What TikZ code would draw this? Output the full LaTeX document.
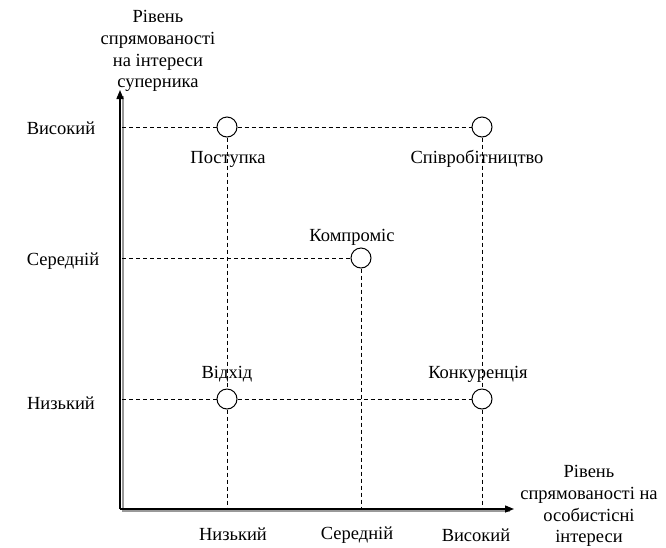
\documentclass[tikz,border=0pt]{standalone}
\usepackage{fontspec}
\setmainfont{LiberationSerif-Regular.ttf}
\usetikzlibrary{arrows.meta}
\begin{document}
\begin{tikzpicture}[x=1pt,y=-1pt,
  lbl/.style={font=\fontsize{18.5}{21}\selectfont, inner sep=0pt},
  ttl/.style={font=\fontsize{18.5}{21.8}\selectfont, align=center, inner sep=0pt},
  pt/.style={circle, draw, line width=1pt, minimum size=20pt, inner sep=0pt, fill=white},
  guide/.style={line width=0.8pt, dash pattern=on 4pt off 3pt},
  axis/.style={line width=1.4pt},
  shadow/.style={line width=1.6pt, draw=black!40}]
\useasboundingbox (0,0) rectangle (666,547);
% axes shadows
\draw[shadow] (123,96) -- (123,511);
\draw[shadow] (122,511) -- (510,511);
\coordinate (O) at (120,509);
\coordinate (Ytip) at (120,90);
\coordinate (Xtip) at (514,509);
% points
\node[pt] (post) at (227,127) {};
\node[pt] (spiv) at (482,127) {};
\node[pt] (komp) at (361,258) {};
\node[pt] (vidh) at (227,399) {};
\node[pt] (konk) at (482,399) {};
\coordinate (yH) at (122,127);
\coordinate (yM) at (122,258);
\coordinate (yL) at (122,399);
\coordinate (xL) at (227,509);
\coordinate (xM) at (361,509);
\coordinate (xH) at (482,509);
\draw[guide] (yH) -- (post);
\draw[guide] (post) -- (spiv);
\draw[guide] (yM) -- (komp);
\draw[guide] (yL) -- (vidh);
\draw[guide] (vidh) -- (konk);
\draw[guide] (post) -- (vidh);
\draw[guide] (vidh) -- (xL);
\draw[guide] (spiv) -- (konk);
\draw[guide] (konk) -- (xH);
\draw[guide] (komp) -- (xM);
% axes
\draw[axis, -{Triangle[length=9pt,width=7pt]}] (O) -- (Ytip);
\draw[axis, -{Triangle[length=9pt,width=7pt]}] (O) -- (Xtip);
% labels
\node[lbl] (lpost) at (228,159) {Поступка};
\node[lbl] (lspiv) at (477,159) {Співробітництво};
\node[lbl] (lkomp) at (352,237) {Компроміс};
\node[lbl] (lvidh) at (227,374) {Відхід};
\node[lbl] (lkonk) at (478,374) {Конкуренція};
\node[lbl] (yh) at (61,128) {Високий};
\node[lbl] (ym) at (63,261) {Середній};
\node[lbl] (yl) at (61,403) {Низький};
\node[lbl] (xl) at (233,534) {Низький};
\node[lbl] (xm) at (357,535) {Середній};
\node[lbl] (xh) at (476,535) {Високий};
\node[ttl] (ty) at (158,51) {Рівень\\спрямованості\\на інтереси\\суперника};
\node[ttl] (tx) at (589,506) {Рівень\\спрямованості на\\особистісні\\інтереси};
\end{tikzpicture}
\end{document}
